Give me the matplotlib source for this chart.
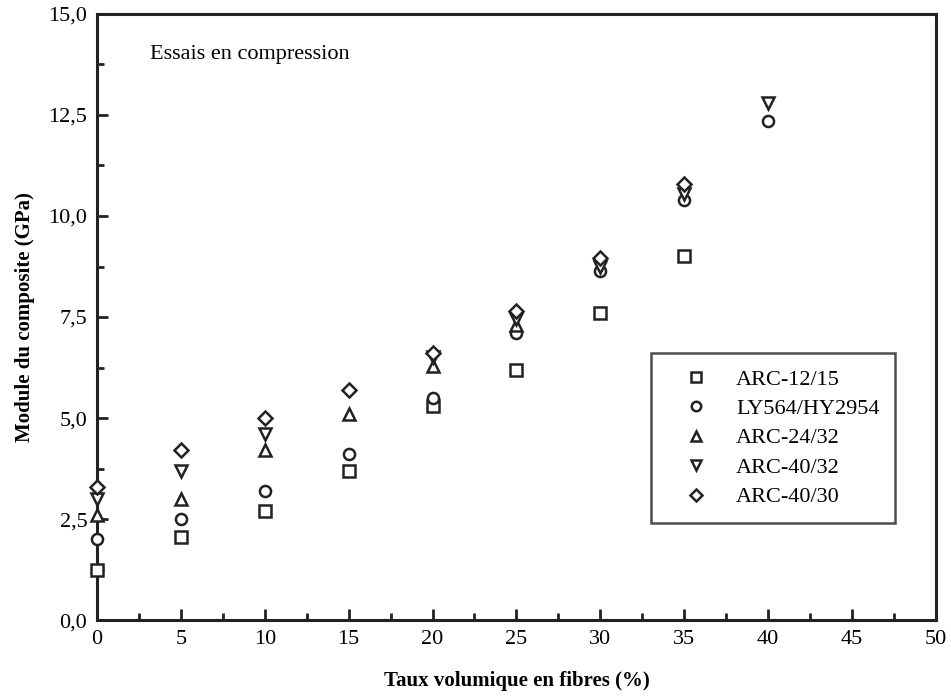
import matplotlib
matplotlib.use("Agg")
import matplotlib.pyplot as plt
from matplotlib.ticker import MultipleLocator, FuncFormatter

plt.rcParams['font.family'] = ['Liberation Serif', 'DejaVu Serif']

# fibre volume fraction (%) and modulus (GPa) per resin
x_arc1215 = [0, 5, 10, 15, 20, 25, 30, 35]
y_arc1215 = [1.25, 2.05, 2.7, 3.7, 5.3, 6.2, 7.6, 9.0]

x_ly564 = [0, 5, 10, 15, 20, 25, 30, 35, 40]
y_ly564 = [2.0, 2.5, 3.2, 4.1, 5.5, 7.1, 8.65, 10.4, 12.35]

x_arc2432 = [0, 5, 10, 15, 20, 25]
y_arc2432 = [2.6, 3.0, 4.2, 5.1, 6.3, 7.3]

x_arc4032 = [0, 5, 10, 20, 25, 30, 35, 40]
y_arc4032 = [3.0, 3.7, 4.6, 6.5, 7.45, 8.75, 10.55, 12.8]

x_arc4030 = [0, 5, 10, 15, 20, 25, 30, 35]
y_arc4030 = [3.3, 4.2, 5.0, 5.7, 6.6, 7.65, 8.95, 10.8]

series = [
    (x_arc1215, y_arc1215, 's', 'ARC-12/15'),
    (x_ly564, y_ly564, 'o', 'LY564/HY2954'),
    (x_arc2432, y_arc2432, '^', 'ARC-24/32'),
    (x_arc4032, y_arc4032, 'v', 'ARC-40/32'),
    (x_arc4030, y_arc4030, 'D', 'ARC-40/30'),
]

fig = plt.figure(figsize=(9.51, 6.96), dpi=100)
ax = fig.add_axes([0.102, 0.109, 0.882, 0.871])

for xs, ys, m, lab in series:
    ms = 7 if m == 'D' else 8
    ax.plot(xs, ys, linestyle='none', marker=m, markersize=ms,
            markerfacecolor='white', markeredgecolor='#222222',
            markeredgewidth=1.8, label=lab, clip_on=False, zorder=3)

ax.set_xlim(0, 50)
ax.set_ylim(0, 15)
ax.xaxis.set_major_locator(MultipleLocator(5))
ax.xaxis.set_minor_locator(MultipleLocator(2.5))
ax.yaxis.set_major_locator(MultipleLocator(2.5))
ax.yaxis.set_minor_locator(MultipleLocator(1.25))
ax.yaxis.set_major_formatter(FuncFormatter(lambda v, p: f"{v:.1f}".replace('.', ',')))

for s in ax.spines.values():
    s.set_linewidth(2.2)
    s.set_color('#222222')
ax.tick_params(which='both', direction='in', top=False, right=False,
               width=2, color='#222222', labelsize=16, pad=7)
ax.tick_params(which='major', length=8)
ax.tick_params(which='minor', length=5)

ax.set_xlabel('Taux volumique en fibres (%)', fontsize=15, fontweight='bold', labelpad=16)
ax.set_ylabel('Module du composite (GPa)', fontsize=15, fontweight='bold', labelpad=10)

ax.text(0.063, 0.925, 'Essais en compression', transform=ax.transAxes, fontsize=16)

leg = ax.legend(loc='upper left', bbox_to_anchor=(0.661, 0.44), borderaxespad=0,
                fontsize=16, frameon=True, fancybox=False, edgecolor='#222222',
                handletextpad=0.5, labelspacing=0.4, borderpad=0.7,
                handlelength=2.6, markerscale=0.85)
leg.get_frame().set_linewidth(1.8)

fig.savefig('out.png', dpi=100)
